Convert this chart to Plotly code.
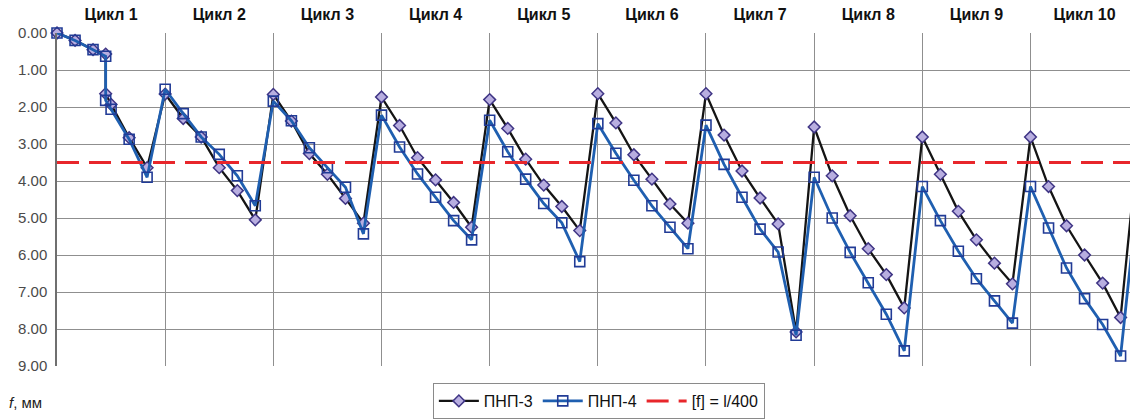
import plotly.graph_objects as go

# ---------------- data ----------------
cycle_labels = ["Цикл 1", "Цикл 2", "Цикл 3", "Цикл 4", "Цикл 5",
                "Цикл 6", "Цикл 7", "Цикл 8", "Цикл 9", "Цикл 10"]

# load-step positions (in cycle units)
x_cycle1 = [0.0, 0.167, 0.333, 0.45, 0.45, 0.5, 0.667, 0.833]
x_step = [0.0, 0.167, 0.333, 0.5, 0.667, 0.833]

pnp3_c1 = [0.00, 0.20, 0.45, 0.57, 1.64, 1.93, 2.83, 3.64]
pnp3_cycles = [
    [1.65, 2.31, 2.81, 3.64, 4.26, 5.05],
    [1.66, 2.38, 3.26, 3.82, 4.47, 5.14],
    [1.73, 2.50, 3.37, 3.97, 4.58, 5.25],
    [1.80, 2.58, 3.41, 4.11, 4.69, 5.34],
    [1.64, 2.43, 3.29, 3.95, 4.62, 5.14],
    [1.64, 2.76, 3.73, 4.46, 5.16, 8.08],
    [2.54, 3.86, 4.94, 5.83, 6.53, 7.43],
    [2.81, 3.82, 4.82, 5.59, 6.22, 6.78],
    [2.81, 4.15, 5.21, 6.00, 6.76, 7.69],
]
pnp3_next = 2.81

pnp4_c1 = [0.00, 0.20, 0.45, 0.63, 1.82, 2.06, 2.87, 3.90]
pnp4_cycles = [
    [1.52, 2.18, 2.81, 3.28, 3.86, 4.67],
    [1.84, 2.37, 3.10, 3.64, 4.17, 5.43],
    [2.22, 3.08, 3.81, 4.44, 5.07, 5.59],
    [2.36, 3.21, 3.95, 4.61, 5.13, 6.18],
    [2.45, 3.25, 3.98, 4.67, 5.25, 5.83],
    [2.49, 3.55, 4.44, 5.30, 5.92, 8.17],
    [3.90, 5.00, 5.93, 6.75, 7.60, 8.59],
    [4.15, 5.07, 5.90, 6.64, 7.24, 7.84],
    [4.15, 5.27, 6.35, 7.18, 7.88, 8.73],
]
pnp4_next = 4.15

limit_value = 3.5          # [f] = l/400
limit_x = [0, 10]

y_ticks = [0, 1, 2, 3, 4, 5, 6, 7, 8, 9]

# ---------------- build series ----------------
def build(c1, cycles, nxt):
    xs = list(x_cycle1)
    ys = list(c1)
    for i, vals in enumerate(cycles):
        c = i + 1
        xs += [c + s for s in x_step]
        ys += vals
    xs.append(len(cycles) + 1)
    ys.append(nxt)
    return xs, ys

x3, y3 = build(pnp3_c1, pnp3_cycles, pnp3_next)
x4, y4 = build(pnp4_c1, pnp4_cycles, pnp4_next)

fig = go.Figure()

fig.add_trace(go.Scatter(
    x=x3, y=y3, mode="lines+markers", name="ПНП-3",
    line=dict(color="#141414", width=2.3),
    marker=dict(symbol="diamond", size=9, color="#b8aee0",
                line=dict(color="#3f3585", width=1.5)),
    cliponaxis=False,
))
fig.add_trace(go.Scatter(
    x=x4, y=y4, mode="lines+markers", name="ПНП-4",
    line=dict(color="#1f5fb0", width=2.8),
    marker=dict(symbol="square-open", size=10, color="#213b96",
                line=dict(color="#213b96", width=1.6)),
    cliponaxis=False,
))
fig.add_trace(go.Scatter(
    x=limit_x, y=[limit_value] * len(limit_x), mode="lines",
    name="[f] = l/400",
    line=dict(color="#e8262b", width=3, dash="22px,10px"),
))

grid_col = "#8f8f8f"

fig.update_layout(
    width=1130, height=419,
    margin=dict(l=57, r=0, t=33, b=52),
    paper_bgcolor="white", plot_bgcolor="white",
    font=dict(family="Liberation Sans, Arial, sans-serif", size=13, color="#404040"),
    showlegend=True,
    legend=dict(
        orientation="h", x=0.505, xanchor="center", y=-0.05, yanchor="top",
        bordercolor="#8a8a8a", borderwidth=1, bgcolor="white",
        font=dict(size=16, color="#111111"),
        itemwidth=40, tracegroupgap=0,
    ),
    xaxis=dict(
        range=[0, 9.92], side="top",
        tickmode="array",
        tickvals=[i + 0.5 for i in range(len(cycle_labels))],
        ticktext=cycle_labels,
        tickfont=dict(size=16, color="#111111",
                      family="Liberation Sans, Arial, sans-serif", weight="bold"),
        ticks="", showgrid=False, zeroline=False, showline=False,
        ticklabelstandoff=9,
        minor=dict(tick0=0, dtick=1, showgrid=True, gridcolor=grid_col,
                   gridwidth=1.3, ticks=""),
    ),
    yaxis=dict(
        range=[9, 0], tickmode="array", tickvals=y_ticks,
        tickformat=".2f", showgrid=True, gridcolor=grid_col, gridwidth=1.3,
        zeroline=False, showline=True, linecolor="#6f6f6f", linewidth=1.5,
        ticks="", ticklabelstandoff=5,
        tickfont=dict(size=15, color="#4a4a4a"),
    ),
    annotations=[dict(
        text="<i>f</i>, мм", xref="paper", yref="paper",
        x=-0.047, y=-0.111, xanchor="left", yanchor="middle", showarrow=False,
        font=dict(size=15, color="#222222"),
    )],
)

fig.write_html("out.html")
